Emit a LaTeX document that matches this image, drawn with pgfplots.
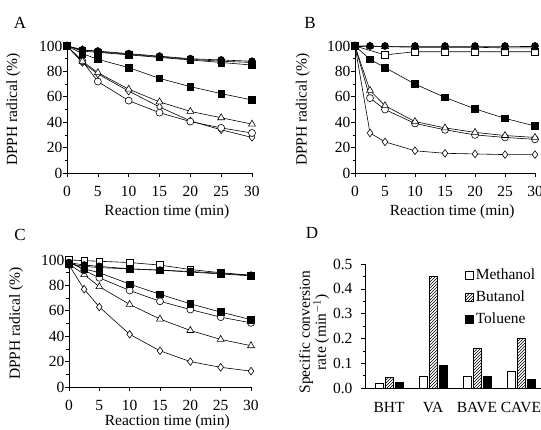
\documentclass[border=0pt]{standalone}
\usepackage{fontspec}
\setmainfont{Liberation Serif}
\usepackage{pgfplots}
\pgfplotsset{compat=1.18}
\usetikzlibrary{patterns}
\newcommand{\fsz}{\fontsize{15.5}{16}\selectfont}
\pgfplotsset{
  base/.style={
    scale only axis, axis lines=left, axis line style={-, line width=0.8pt},
    tick align=outside, major tick length=4pt, minor tick length=2.5pt,
    tick style={black, line width=0.6pt},
    /pgf/number format/assume math mode=true,
    tick label style={font=\fsz},
    label style={font=\fsz},
    clip=false,
  },
  linepanel/.style={base,
    height=127pt, xmin=0, xmax=30, ymin=0, ymax=100,
    xtick={0,5,10,15,20,25,30}, ytick={0,20,40,60,80,100}, minor y tick num=1,
    xticklabel style={yshift=-6pt},
    yticklabel style={xshift=3pt},
    xlabel={Reaction time (min)}, ylabel={DPPH radical (\%)},
    xlabel style={at={(axis description cs:0.54,-0.307)}, anchor=center},
    ylabel style={at={(axis description cs:-0.29,0.5)}, anchor=center},
    every axis plot/.append style={black, line width=0.6pt},
  },
  fc/.style={mark=*, mark size=3.5pt, mark options={solid, fill=black, draw=black}},
  oc/.style={mark=*, mark size=3.5pt, mark options={solid, fill=white, draw=black}},
  fs/.style={mark=square*, mark size=3.3pt, mark options={solid, fill=black, draw=black}},
  os/.style={mark=square*, mark size=3.3pt, mark options={solid, fill=white, draw=black}},
  ft/.style={mark=triangle*, mark size=4pt, mark options={solid, fill=black, draw=black}},
  ot/.style={mark=triangle*, mark size=4pt, mark options={solid, fill=white, draw=black}},
  od/.style={mark=diamond*, mark size=3.8pt, mark options={solid, fill=white, draw=black}},
}
\begin{document}
\begin{tikzpicture}[font=\fsz]
\path[use as bounding box] (0,0) rectangle (541pt,-430pt);
\clip (0,0) rectangle (541pt,-430pt);

% Panel A
\begin{axis}[linepanel, width=185pt, at={(67pt,-173pt)}, anchor=south west]
\addplot[od] coordinates {(0,100) (2.5,87) (5,78) (10,64.5) (15,52) (20,41) (25,34) (30,28)};
\addplot[oc] coordinates {(0,100) (2.5,88) (5,72) (10,57) (15,47.5) (20,40.5) (25,35.5) (30,31.5)};
\addplot[ot] coordinates {(0,100) (2.5,88) (5,79) (10,66) (15,56) (20,48.5) (25,43.5) (30,38.5)};
\addplot[fs] coordinates {(0,100) (2.5,94) (5,89.5) (10,83) (15,74.5) (20,68) (25,62.5) (30,57.5)};
\addplot[fs] coordinates {(0,100) (2.5,96) (5,95) (10,93) (15,91) (20,89) (25,87) (30,85)};
\addplot[ft] coordinates {(0,100) (2.5,97) (5,95.5) (10,93.5) (15,91.5) (20,89.5) (25,88) (30,87)};
\addplot[fc] coordinates {(0,100) (2.5,97) (5,96) (10,94) (15,92) (20,90) (25,89) (30,88)};
\end{axis}
\node at (20pt,-23pt) {\fontsize{17}{18}\selectfont A};

% Panel B
\begin{axis}[linepanel, width=180pt, at={(355pt,-173pt)}, anchor=south west]
\addplot[od] coordinates {(0,100) (2.5,31.5) (5,24.5) (10,17.5) (15,15.5) (20,15) (25,14.5) (30,14.5)};
\addplot[oc] coordinates {(0,100) (2.5,59) (5,50) (10,39) (15,34) (20,30) (25,28) (30,26.5)};
\addplot[ot] coordinates {(0,100) (2.5,65) (5,53) (10,40.5) (15,35.5) (20,32) (25,29.5) (30,28)};
\addplot[fs] coordinates {(0,100) (2.5,89.5) (5,83) (10,70) (15,59.5) (20,50.5) (25,43) (30,37)};
\addplot[os] coordinates {(0,100) (5,93) (10,95.5) (15,95.5) (20,95.5) (25,95.5) (30,95.5)};
\addplot[ft] coordinates {(0,100) (2.5,100) (5,99.5) (10,99) (15,99) (20,99) (25,98.5) (30,98.5)};
\addplot[fc] coordinates {(0,100) (2.5,100) (5,100) (10,100) (15,100) (20,100) (25,100) (30,100)};
\end{axis}
\node at (310pt,-23pt) {\fontsize{17}{18}\selectfont B};

% Panel C
\begin{axis}[linepanel, width=182pt, at={(69pt,-387pt)}, anchor=south west,
  xlabel style={at={(axis description cs:0.54,-0.27)}, anchor=center}]
\addplot[od] coordinates {(0,96) (2.5,77) (5,63) (10,41.5) (15,28.5) (20,20) (25,15.5) (30,12.5)};
\addplot[ot] coordinates {(0,97) (2.5,88.5) (5,79) (10,65) (15,53.5) (20,44.5) (25,37.5) (30,32.5)};
\addplot[oc] coordinates {(0,99) (2.5,92) (5,86) (10,76) (15,67.5) (20,61) (25,55) (30,50.5)};
\addplot[fs] coordinates {(0,98) (2.5,93) (5,90) (10,81) (15,73) (20,65.5) (25,59) (30,53)};
\addplot[os] coordinates {(0,100) (2.5,99.5) (5,99) (10,98) (15,96) (20,92.5) (25,90) (30,88)};
\addplot[fc] coordinates {(0,98) (2.5,96) (5,95) (10,93) (15,92) (20,91) (25,89.5) (30,88)};
\addplot[fs] coordinates {(0,97) (2.5,95) (5,94) (10,93) (15,92) (20,90.5) (25,89) (30,87.5)};
\end{axis}
\node at (20pt,-235pt) {\fontsize{17}{18}\selectfont C};

% Panel D
\begin{axis}[base, width=200pt, height=124pt, at={(365pt,-388pt)}, anchor=south west,
  xmin=0.4545, xmax=5, ymin=0, ymax=0.5,
  ybar=2pt, bar width=8pt,
  xtick={1,2,3,4}, xticklabels={BHT,VA,BAVE,CAVE}, x tick style={draw=none},
  xticklabel style={yshift=-7pt},
  ytick={0,0.1,0.2,0.3,0.4,0.5}, minor y tick num=1,
  yticklabel style={xshift=-5pt, /pgf/number format/.cd, fixed, fixed zerofill, precision=1},
  ylabel={Specific conversion\\rate (min$^{-1}$)},
  ylabel style={align=center, at={(axis description cs:-0.255,0.45)}, anchor=center},
  legend style={draw=none, fill=none, at={(axis description cs:0.5,0.98)}, anchor=north west,
    row sep=6pt, font=\fsz, inner sep=0pt},
  legend cell align=left,
  legend image code/.code={\draw[#1, line width=0.6pt] (0pt,-4pt) rectangle (8pt,4pt);},
]
\addplot[draw=black, fill=white, line width=0.6pt] coordinates {(1,0.020) (2,0.048) (3,0.048) (4,0.069)};
\addplot[draw=black, pattern=north east lines, line width=0.6pt] coordinates {(1,0.043) (2,0.45) (3,0.161) (4,0.200)};
\addplot[draw=black, fill=black, line width=0.6pt] coordinates {(1,0.024) (2,0.090) (3,0.048) (4,0.034)};
\legend{Methanol, Butanol, Toluene}
\end{axis}
\node at (312pt,-233pt) {\fontsize{17}{18}\selectfont D};
\end{tikzpicture}
\end{document}
